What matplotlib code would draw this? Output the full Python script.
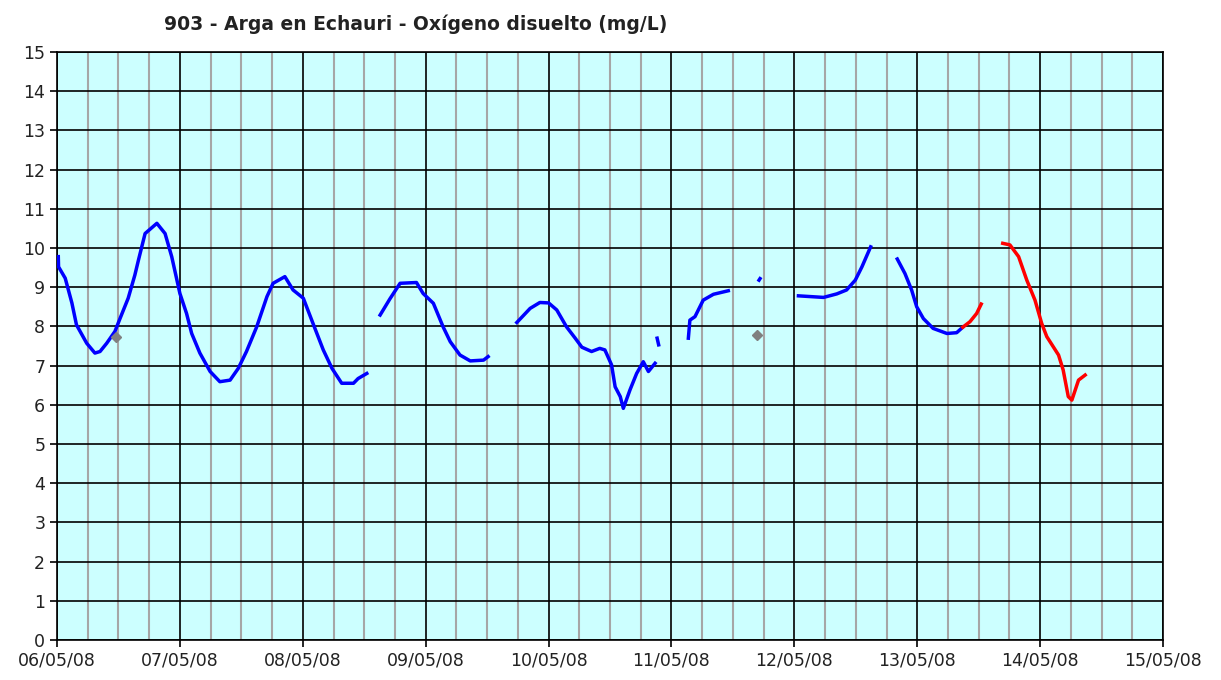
import matplotlib
matplotlib.use('agg')
import matplotlib.pyplot as plt

# hours since 06/05/08 00:00, dissolved oxygen (mg/L)
seg1_h = [0.25, 0.3, 1.6, 2.9, 3.8, 5.8, 7.4, 8.4, 9.7, 11.3, 12.3, 13.9, 15.2, 15.9, 17.2, 19.5,
          21.1, 22.4, 24.0, 25.3, 26.3, 27.9, 29.9, 31.8, 33.8, 35.4, 37.0, 39.0, 41.0, 42.2, 44.5,
          46.1, 48.1, 50.1, 52.0, 53.7, 55.6, 57.9, 58.8, 60.5]
seg1_v = [9.78, 9.52, 9.23, 8.6, 8.04, 7.57, 7.32, 7.36, 7.57, 7.87, 8.2, 8.72, 9.31, 9.69, 10.37, 10.63,
          10.37, 9.78, 8.84, 8.33, 7.82, 7.32, 6.85, 6.59, 6.63, 6.93, 7.36, 7.99, 8.76, 9.10, 9.27,
          8.93, 8.72, 8.04, 7.40, 6.93, 6.55, 6.55, 6.67, 6.80]
seg2_h = [63.1, 65.0, 67.0, 70.2, 71.5, 73.5, 75.4, 76.8, 78.7, 80.7, 83.3, 84.2]
seg2_v = [8.29, 8.70, 9.10, 9.12, 8.84, 8.59, 7.99, 7.61, 7.27, 7.12, 7.14, 7.23]
seg3_h = [89.8, 92.4, 94.3, 96.0, 97.6, 99.5, 101.2, 102.5, 104.4, 106.0, 107.0, 108.3, 109.0,
          110.0, 110.6, 111.9, 113.2, 114.5, 115.5, 116.8]
seg3_v = [8.10, 8.46, 8.61, 8.60, 8.42, 7.99, 7.70, 7.47, 7.36, 7.44, 7.40, 7.02, 6.46,
          6.21, 5.91, 6.38, 6.80, 7.10, 6.85, 7.06]
seg4_h = [117.2, 117.5]
seg4_v = [7.70, 7.53]
seg5_h = [123.3, 123.6, 124.6, 126.2, 128.2, 131.1]
seg5_v = [7.70, 8.16, 8.25, 8.67, 8.82, 8.91]
seg6_h = [137.1, 137.3]
seg6_v = [9.18, 9.22]
seg7_h = [144.8, 149.7, 152.3, 154.2, 155.9, 157.2, 158.9]
seg7_v = [8.78, 8.74, 8.83, 8.93, 9.18, 9.52, 10.03]
seg8_h = [164.1, 165.6, 166.9, 167.9, 169.2, 171.1, 173.8, 175.7, 176.9]
seg8_v = [9.72, 9.35, 8.93, 8.50, 8.20, 7.95, 7.82, 7.84, 7.98]
# red (unvalidated) data
red1_h = [176.9, 178.3, 179.6, 180.5]
red1_v = [7.98, 8.12, 8.33, 8.57]
red2_h = [184.7, 186.1, 187.8, 189.4, 191.0, 192.3, 193.3, 195.6, 196.5, 197.5, 198.2, 199.5, 200.8]
red2_v = [10.12, 10.08, 9.78, 9.18, 8.67, 8.08, 7.74, 7.27, 6.89, 6.21, 6.12, 6.63, 6.76]
# gray isolated samples
gray_h = [11.5, 136.7]
gray_v = [7.72, 7.78]

day_labels = ['06/05/08', '07/05/08', '08/05/08', '09/05/08', '10/05/08',
              '11/05/08', '12/05/08', '13/05/08', '14/05/08', '15/05/08']

fig = plt.figure(figsize=(12.21, 6.8), dpi=100)
ax = fig.add_axes([0.0467, 0.0588, 0.9058, 0.8647])
ax.set_facecolor('#CCFFFF')

# grid
for h in range(0, 217, 6):
    if h % 24:
        ax.axvline(h, color='#A6A6A6', linewidth=1.5, zorder=1)
    else:
        ax.axvline(h, color='black', linewidth=1.2, zorder=1)
for v in range(0, 16):
    ax.axhline(v, color='black', linewidth=1.2, zorder=1)

blue = [(seg1_h, seg1_v), (seg2_h, seg2_v), (seg3_h, seg3_v), (seg4_h, seg4_v),
        (seg5_h, seg5_v), (seg6_h, seg6_v), (seg7_h, seg7_v), (seg8_h, seg8_v)]
for hs, vs in blue:
    ax.plot(hs, vs, color='#0000FF', linewidth=2.5, zorder=3)
for hs, vs in [(red1_h, red1_v), (red2_h, red2_v)]:
    ax.plot(hs, vs, color='#FF0000', linewidth=2.5, zorder=3)
ax.plot(gray_h, gray_v, linestyle='none', marker='D', markersize=5,
        color='#808080', zorder=4)

ax.set_xlim(0, 216)
ax.set_ylim(0, 15)
ax.set_xticks(range(0, 217, 24))
ax.set_xticklabels(day_labels)
ax.set_yticks(range(0, 16))
ax.tick_params(labelsize=12.5, length=5, width=1.2, colors='black', labelcolor='#222222')
for s in ax.spines.values():
    s.set_linewidth(1.2)

fig.text(0.134, 0.965, '903 - Arga en Echauri - Oxígeno disuelto (mg/L)',
         fontsize=13.5, fontweight='bold', ha='left', va='center', color='#222222')

plt.savefig('out.png', dpi=100)
